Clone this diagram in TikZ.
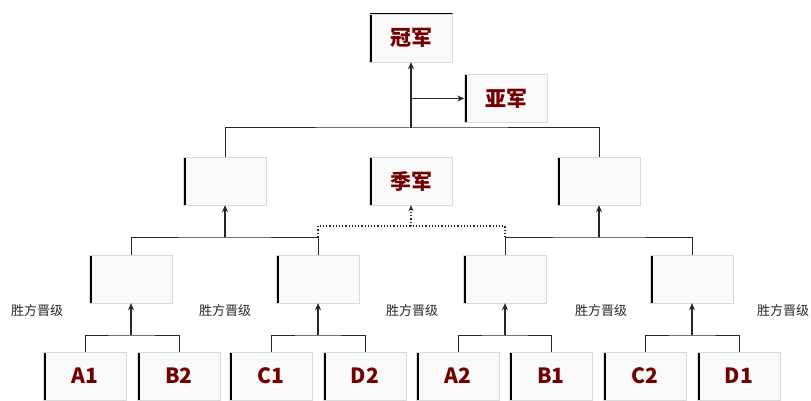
\documentclass[tikz,border=0pt]{standalone}
\usepackage{fontspec}
\newfontfamily\cjk{Noto Sans CJK SC}
\usetikzlibrary{arrows.meta}
\begin{document}
\begin{tikzpicture}[x=1pt,y=-1pt,
  box/.style={draw=gray!30, fill=gray!5, minimum width=83pt, minimum height=48pt, inner sep=0pt,
    font=\cjk\bfseries\fontsize{21}{21}\selectfont, text=red!45!black,
    path picture={
      \draw[black, line width=4pt] (path picture bounding box.north west) -- (path picture bounding box.south west);
      \draw[black, line width=2pt] (path picture bounding box.north west) -- (path picture bounding box.north east);}},
  lbl/.style={font=\cjk\fontsize{13}{13}\selectfont, text=black!85, inner sep=0pt},
  conn/.style={line width=1pt, black!85},
  arr/.style={line width=1.6pt, black!85, -{Stealth[length=7pt,width=6pt]}},
  darr/.style={line width=1.2pt, black!85, dotted, -{Stealth[length=6pt,width=5pt]}},
  dline/.style={line width=1.2pt, black!85, dotted}]
\useasboundingbox (0,0) rectangle (811,401);
% top
\node[box] (champ) at (411,38) {冠军};
\node[box] (runner) at (506,98.5) {亚军};
% level 2
\node[box] (s1) at (225,181) {};
\node[box] (third) at (411,181) {季军};
\node[box] (s2) at (599,181) {};
% level 3
\node[box] (q1) at (131,279) {};
\node[box] (q2) at (318,279) {};
\node[box] (q3) at (505,279) {};
\node[box] (q4) at (692,279) {};
% bottom
\node[box] (a1) at (85,376) {A1};
\node[box] (b2) at (179,376) {B2};
\node[box] (c1) at (271,376) {C1};
\node[box] (d2) at (365,376) {D2};
\node[box] (a2) at (458,376) {A2};
\node[box] (b1) at (551,376) {B1};
\node[box] (c2) at (645,376) {C2};
\node[box] (d1) at (739,376) {D1};
% labels
\node[lbl] (l1) at (37,311) {胜方晋级};
\node[lbl] (l2) at (225,311) {胜方晋级};
\node[lbl] (l3) at (412,311) {胜方晋级};
\node[lbl] (l4) at (601,311) {胜方晋级};
\node[lbl] (l5) at (783,311) {胜方晋级};
% junctions
\coordinate (j0) at (411,128);
\coordinate (j1) at (225,237);
\coordinate (j2) at (599,237);
\coordinate (j3) at (411,226);
\coordinate (k1) at (131,335);
\coordinate (k2) at (318,335);
\coordinate (k3) at (505,335);
\coordinate (k4) at (692,335);
% top connectors
\draw[conn] (s1.north) |- (j0) -| (s2.north);
\draw[arr] (j0) -- (champ.south);
\draw[arr] (champ.south |- runner.west) -- (runner.west);
% level 3 to level 2
\draw[conn] (q1.north) |- (j1) -| (q2.north);
\draw[arr] (j1) -- (s1.south);
\draw[conn] (q3.north) |- (j2) -| (q4.north);
\draw[arr] (j2) -- (s2.south);
% third place (dotted)
\draw[dline] (q2.north |- j1) |- (j3) -| (q3.north |- j2);
\draw[darr] (j3) -- (third.south);
% bottom to level 3
\draw[conn] (a1.north) |- (k1) -| (b2.north);
\draw[arr] (k1) -- (q1.south);
\draw[conn] (c1.north) |- (k2) -| (d2.north);
\draw[arr] (k2) -- (q2.south);
\draw[conn] (a2.north) |- (k3) -| (b1.north);
\draw[arr] (k3) -- (q3.south);
\draw[conn] (c2.north) |- (k4) -| (d1.north);
\draw[arr] (k4) -- (q4.south);
\end{tikzpicture}
\end{document}
